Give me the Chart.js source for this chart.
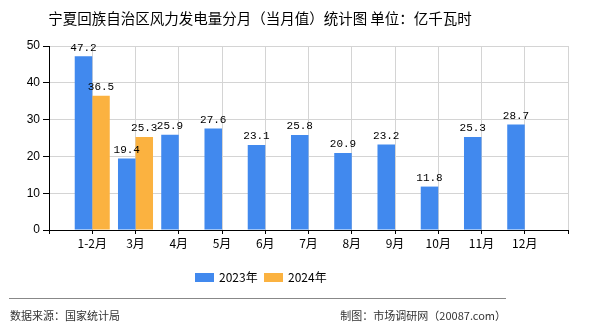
<!DOCTYPE html>
<html>
<head>
<meta charset="utf-8">
<script src="https://cdn.jsdelivr.net/npm/chart.js@4/dist/chart.umd.min.js"></script>
<style>
  html, body { margin: 0; padding: 0; background: #fff; }
  #wrap { width: 590px; height: 330px; }
</style>
</head>
<body>
<div id="wrap"><canvas id="myChart" width="590" height="330"></canvas></div>
<script>
// blank first/last slots so the groups sit on the grid lines
const months = ['', '1-2月', '3月', '4月', '5月', '6月', '7月', '8月', '9月', '10月', '11月', '12月', ''];
const values2023 = [null, 47.2, 19.4, 25.9, 27.6, 23.1, 25.8, 20.9, 23.2, 11.8, 25.3, 28.7, null];
const values2024 = [null, 36.5, 25.3, null, null, null, null, null, null, null, null, null, null];
const seriesNames = ['2023年', '2024年'];
const yTicks = [0, 10, 20, 30, 40, 50];

const title = '宁夏回族自治区风力发电量分月（当月值）统计图 单位：亿千瓦时';
const source = '数据来源：国家统计局';
const maker = '制图：市场调研网（20087.com）';

const cjk = '"Noto Sans CJK SC", "Noto Sans", sans-serif';

const decor = {
  id: 'decor',
  afterDatasetsDraw(chart) {
    const c = chart.ctx;
    c.save();
    // value labels above the bars
    c.font = '11px "Liberation Mono", monospace';
    c.fillStyle = '#000';
    c.textAlign = 'center';
    c.textBaseline = 'bottom';
    chart.data.datasets.forEach((ds, i) => {
      chart.getDatasetMeta(i).data.forEach((bar, j) => {
        if (ds.data[j] == null) return;
        c.fillText(ds.data[j].toFixed(1), bar.x, bar.y - 3);
      });
    });
    c.restore();
  },
  afterDraw(chart) {
    const c = chart.ctx;
    c.save();
    c.fillStyle = '#000';
    c.textBaseline = 'middle';
    c.textAlign = 'center';
    c.font = '14.5px ' + cjk;
    c.fillText(title, 260, 18);

    // legend
    c.font = '12px ' + cjk;
    c.textAlign = 'left';
    let x = 195;
    chart.data.datasets.forEach((ds) => {
      c.fillStyle = ds.backgroundColor;
      c.fillRect(x, 273, 19, 9);
      c.fillStyle = '#000';
      c.fillText(ds.label, x + 24, 277.5);
      x += 69;
    });

    // footer
    c.strokeStyle = '#888';
    c.lineWidth = 1;
    c.beginPath();
    c.moveTo(9, 298.5);
    c.lineTo(506, 298.5);
    c.stroke();
    c.fillStyle = '#333';
    c.font = '11px ' + cjk;
    c.fillText(source, 10, 316);
    c.textAlign = 'right';
    c.fillText(maker, 506, 316);
    c.restore();
  }
};

const ctx = document.getElementById('myChart').getContext('2d');

new Chart(ctx, {
  type: 'bar',
  data: {
    labels: months,
    datasets: [
      { label: seriesNames[0], data: values2023, backgroundColor: '#4189ee' },
      { label: seriesNames[1], data: values2024, backgroundColor: '#fbb240' }
    ]
  },
  options: {
    responsive: false,
    animation: false,
    categoryPercentage: 0.81,
    barPercentage: 1,
    layout: { padding: { top: 46, right: 22, left: 0, bottom: 0 } },
    plugins: {
      legend: { display: false },
      title: { display: false },
      tooltip: { enabled: false }
    },
    scales: {
      x: {
        offset: false,
        grid: {
          offset: false,
          color: (c) => (c.index === 0 ? '#000' : '#d4d4d4'),
          tickColor: '#000',
          tickLength: 4
        },
        border: { color: '#000', width: 1 },
        ticks: {
          autoSkip: false,
          maxRotation: 0,
          padding: 2,
          color: '#000',
          font: { size: 12, family: cjk }
        },
        afterFit(scale) { scale.height = 100; }
      },
      y: {
        min: yTicks[0],
        max: yTicks[yTicks.length - 1],
        afterBuildTicks(scale) { scale.ticks = yTicks.map(v => ({ value: v })); },
        grid: {
          color: (c) => (c.index === 0 ? '#000' : '#d4d4d4'),
          tickColor: '#000',
          tickLength: 6
        },
        border: { color: '#000', width: 1 },
        ticks: {
          padding: 3,
          color: '#000',
          font: { size: 12, family: '"Liberation Sans", sans-serif' }
        },
        afterFit(scale) { scale.width = 49; }
      }
    }
  },
  plugins: [decor]
});
</script>
</body>
</html>
